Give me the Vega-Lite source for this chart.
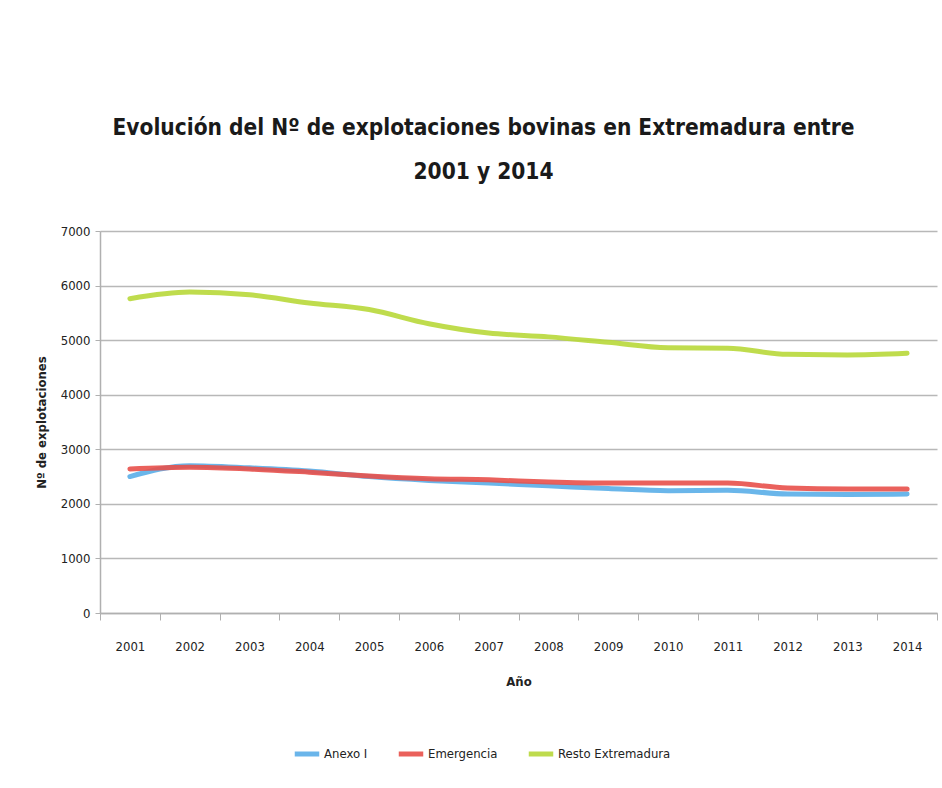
{
  "$schema": "https://vega.github.io/schema/vega-lite/v6.json",
  "width": 837,
  "height": 382,
  "autosize": "none",
  "padding": {"left": 100, "top": 231, "right": 5, "bottom": 175},
  "background": "white",
  "title": {
    "text": ["Evolución del Nº de explotaciones bovinas en Extremadura entre", "2001 y 2014"],
    "font": "DejaVu Sans Condensed, sans-serif",
    "fontSize": 22.5,
    "fontWeight": "bold",
    "color": "#1a1a1a",
    "lineHeight": 44,
    "anchor": "middle",
    "dx": -35,
    "offset": 42
  },
  "data": {
    "values": [
      {"year": "2001", "serie": "Anexo I", "value": 2500},
      {"year": "2002", "serie": "Anexo I", "value": 2700},
      {"year": "2003", "serie": "Anexo I", "value": 2660},
      {"year": "2004", "serie": "Anexo I", "value": 2600},
      {"year": "2005", "serie": "Anexo I", "value": 2500},
      {"year": "2006", "serie": "Anexo I", "value": 2430},
      {"year": "2007", "serie": "Anexo I", "value": 2380},
      {"year": "2008", "serie": "Anexo I", "value": 2330},
      {"year": "2009", "serie": "Anexo I", "value": 2280},
      {"year": "2010", "serie": "Anexo I", "value": 2240},
      {"year": "2011", "serie": "Anexo I", "value": 2250},
      {"year": "2012", "serie": "Anexo I", "value": 2180},
      {"year": "2013", "serie": "Anexo I", "value": 2170},
      {"year": "2014", "serie": "Anexo I", "value": 2180},
      {"year": "2001", "serie": "Emergencia", "value": 2640},
      {"year": "2002", "serie": "Emergencia", "value": 2670},
      {"year": "2003", "serie": "Emergencia", "value": 2640},
      {"year": "2004", "serie": "Emergencia", "value": 2580},
      {"year": "2005", "serie": "Emergencia", "value": 2510},
      {"year": "2006", "serie": "Emergencia", "value": 2460},
      {"year": "2007", "serie": "Emergencia", "value": 2440},
      {"year": "2008", "serie": "Emergencia", "value": 2400},
      {"year": "2009", "serie": "Emergencia", "value": 2380},
      {"year": "2010", "serie": "Emergencia", "value": 2380},
      {"year": "2011", "serie": "Emergencia", "value": 2380},
      {"year": "2012", "serie": "Emergencia", "value": 2290},
      {"year": "2013", "serie": "Emergencia", "value": 2270},
      {"year": "2014", "serie": "Emergencia", "value": 2270},
      {"year": "2001", "serie": "Resto Extremadura", "value": 5760},
      {"year": "2002", "serie": "Resto Extremadura", "value": 5880},
      {"year": "2003", "serie": "Resto Extremadura", "value": 5830},
      {"year": "2004", "serie": "Resto Extremadura", "value": 5680},
      {"year": "2005", "serie": "Resto Extremadura", "value": 5560},
      {"year": "2006", "serie": "Resto Extremadura", "value": 5300},
      {"year": "2007", "serie": "Resto Extremadura", "value": 5130},
      {"year": "2008", "serie": "Resto Extremadura", "value": 5060},
      {"year": "2009", "serie": "Resto Extremadura", "value": 4960},
      {"year": "2010", "serie": "Resto Extremadura", "value": 4860},
      {"year": "2011", "serie": "Resto Extremadura", "value": 4850},
      {"year": "2012", "serie": "Resto Extremadura", "value": 4740},
      {"year": "2013", "serie": "Resto Extremadura", "value": 4730},
      {"year": "2014", "serie": "Resto Extremadura", "value": 4760}
    ]
  },
  "mark": {"type": "line", "strokeWidth": 5, "interpolate": "monotone", "strokeCap": "round", "opacity": 0.9},
  "encoding": {
    "x": {
      "field": "year",
      "type": "ordinal",
      "scale": {"type": "band", "paddingInner": 0, "paddingOuter": 0},
      "axis": {
        "title": "Año",
        "labelAngle": 0,
        "tickBand": "extent",
        "grid": false,
        "ticks": true,
        "tickSize": 7,
        "labelPadding": 20,
        "titlePadding": 22
      }
    },
    "y": {
      "field": "value",
      "type": "quantitative",
      "scale": {"domain": [0, 7000]},
      "axis": {
        "title": "Nº de explotaciones",
        "values": [0, 1000, 2000, 3000, 4000, 5000, 6000, 7000],
        "format": "d",
        "grid": true,
        "tickSize": 5,
        "labelPadding": 5,
        "titlePadding": 12
      }
    },
    "color": {
      "field": "serie",
      "type": "nominal",
      "scale": {
        "domain": ["Anexo I", "Emergencia", "Resto Extremadura"],
        "range": ["#5aaee8", "#e8504a", "#b8d83a"]
      },
      "legend": {
        "title": null,
        "orient": "none",
        "direction": "horizontal",
        "legendX": 192,
        "legendY": 508,
        "symbolType": "stroke",
        "symbolStrokeWidth": 5,
        "symbolSize": 600,
        "columnPadding": 20,
        "labelOffset": 2
      }
    }
  },
  "config": {
    "font": "DejaVu Sans Condensed, sans-serif",
    "view": {"stroke": null},
    "axis": {
      "domainColor": "#b0b0b0",
      "gridColor": "#b8b8b8",
      "tickColor": "#b0b0b0",
      "labelColor": "#222222",
      "labelFontSize": 13,
      "titleFontSize": 13,
      "titleFontWeight": "bold",
      "titleColor": "#222222",
      "domainWidth": 1.5,
      "gridWidth": 1.5
    },
    "legend": {"labelFontSize": 13, "labelColor": "#222222"}
  }
}
